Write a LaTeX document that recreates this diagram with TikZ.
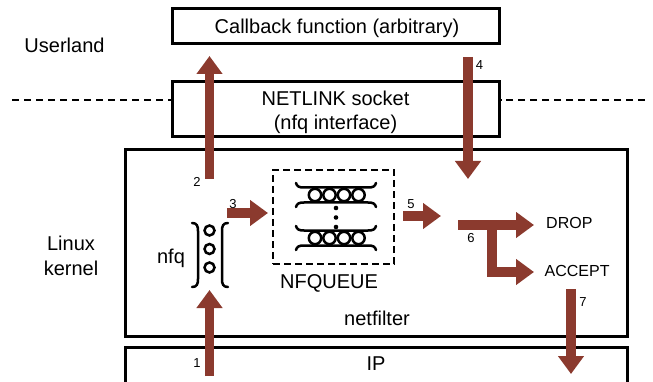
\documentclass[tikz,border=0pt]{standalone}
\usepackage{fontspec}
\setmainfont{Liberation Sans}
\usetikzlibrary{arrows.meta}
\definecolor{flow}{RGB}{139,58,46}
\begin{document}
\begin{tikzpicture}[x=1pt,y=-1pt,
  box/.style={draw, line width=3pt, inner sep=0pt},
  lbl/.style={font=\fontsize{20}{24}\selectfont, inner sep=0pt, anchor=base},
  small/.style={font=\fontsize{16}{19}\selectfont, inner sep=0pt, anchor=base west},
  num/.style={font=\fontsize{13}{15}\selectfont, inner sep=0pt},
  flowarrow/.style={draw=flow, line width=9.5pt, -{Triangle[width=25pt,length=18pt]}},
  icon/.style={line width=2.5pt, line cap=round}]
\useasboundingbox (0,0) rectangle (653,382);

% boxes
\node[box, minimum width=327pt, minimum height=35pt] (callback) at (335.5,26) {};
\node[box, minimum width=327pt, minimum height=55pt] (netlink) at (335.5,109) {};
\node[box, minimum width=502pt, minimum height=186pt] (netfilter) at (376,243) {};
\node[box, anchor=north, minimum width=502pt, minimum height=70pt] (ip) at (376,346) {};
\node[draw, line width=2.5pt, dash pattern=on 7pt off 4pt, inner sep=0pt, minimum width=121pt, minimum height=94pt] (nfqueue) at (333.5,217) {};

% text labels
\node[lbl] (cbtext) at (337,33.3) {Callback function (arbitrary)};
\node[lbl] (nltext1) at (335.5,106) {NETLINK socket};
\node[lbl] (nltext2) at (335.5,130) {(nfq interface)};
\node[lbl] (userland) at (64.5,53) {Userland};
\node[lbl] (linux) at (71,251) {Linux};
\node[lbl] (kernel) at (71,275) {kernel};
\node[lbl] (nfq) at (171,263) {nfq};
\node[lbl] (nfqlabel) at (329,288) {NFQUEUE};
\node[lbl] (nflabel) at (377,325) {netfilter};
\node[lbl] (iplabel) at (376,370) {IP};
\node[small] (drop) at (546,229) {DROP};
\node[small] (accept) at (544.5,276) {ACCEPT};

% user/kernel boundary
\coordinate (dl) at (12,100);
\coordinate (dr) at (645,100);
\draw[line width=2.8pt, dash pattern=on 7pt off 5pt] (dl) -- (dl -| netlink.west);
\draw[line width=2.8pt, dash pattern=on 7pt off 5pt] (dr) -- (dr -| netlink.east);

% nfq: small queue between brackets
\draw[icon] (192,223) .. controls (197,223) and (198,226) .. (198,231) -- (198,279) .. controls (198,284) and (197,287) .. (192,287);
\draw[icon] (228,223) .. controls (223,223) and (222,226) .. (222,231) -- (222,279) .. controls (222,284) and (223,287) .. (228,287);
\foreach \y in {230.5,249,267.5} \draw[icon] (209.5,\y) circle[radius=5];

% NFQUEUE: two queues with dots between
\foreach \yc in {195,238} {
  \draw[icon] (296,{\yc-12}) .. controls (297,{\yc-8.5}) and (299,{\yc-7.5}) .. (304,{\yc-7.5}) -- (368,{\yc-7.5}) .. controls (373,{\yc-7.5}) and (375,{\yc-8.5}) .. (376,{\yc-12});
  \draw[icon] (296,{\yc+12}) .. controls (297,{\yc+8.5}) and (299,{\yc+7.5}) .. (304,{\yc+7.5}) -- (368,{\yc+7.5}) .. controls (373,{\yc+7.5}) and (375,{\yc+8.5}) .. (376,{\yc+12});
  \foreach \x in {315,329.5,344,358.5} \draw[icon] (\x,\yc) circle[radius=6.2];
}
\foreach \y in {208,217.5,227} \fill (336,\y) circle[radius=2.3];

% packet flow
\coordinate (a1s) at (209.5,376); \coordinate (a1e) at (209.5,290);
\coordinate (a2s) at (209.5,179); \coordinate (a2e) at (209.5,56);
\coordinate (a3s) at (227,213);   \coordinate (a3e) at (268,213);
\coordinate (a4s) at (468,57);    \coordinate (a4e) at (468,179);
\coordinate (a5s) at (403,216);   \coordinate (a5e) at (441,216);
\coordinate (a6s) at (458,225);   \coordinate (a6e) at (534,225);
\coordinate (a6k) at (492,225);   \coordinate (a6f) at (534,272);
\coordinate (a7s) at (571,289);   \coordinate (a7e) at (571,374);

\draw[flowarrow] (a1s) -- (a1e);
\draw[flowarrow] (a2s) -- (a2e);
\draw[flowarrow] (a3s) -- (a3e);
\draw[flowarrow] (a4s) -- (a4e);
\draw[flowarrow] (a5s) -- (a5e);
\draw[flowarrow] (a6s) -- (a6e);
\draw[flowarrow, line join=miter] (a6k) -- (a6k |- a6f) -- (a6f);
\draw[flowarrow] (a7s) -- (a7e);

% step numbers
\node[num] (n1) at (197,363) {1};
\node[num] (n2) at (197,182) {2};
\node[num] (n3) at (233,204) {3};
\node[num] (n4) at (479.5,65) {4};
\node[num] (n5) at (411,204) {5};
\node[num] (n6) at (471,238) {6};
\node[num] (n7) at (583,302) {7};
\end{tikzpicture}
\end{document}
